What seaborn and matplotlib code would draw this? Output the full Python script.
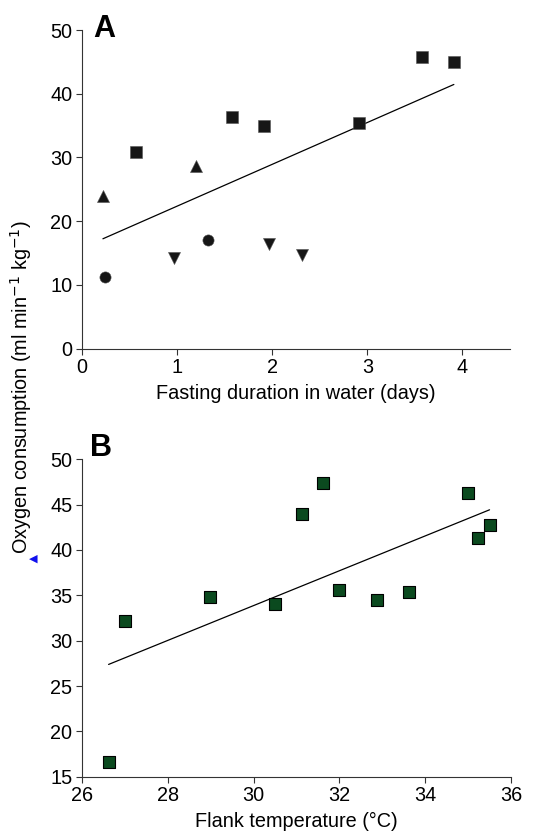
import numpy as np
import pandas as pd
import matplotlib
matplotlib.use('Agg')
import matplotlib.pyplot as plt
import seaborn as sns

# Panel A: fasting duration (days) vs oxygen consumption, four groups
sq_days = [0.57, 1.58, 1.91, 2.91, 3.58, 3.91]
sq_vo2 = [30.8, 36.3, 34.9, 35.4, 45.7, 45.0]
up_days = [0.22, 1.20]
up_vo2 = [23.9, 28.6]
circ_days = [0.24, 1.32]
circ_vo2 = [11.2, 17.0]
down_days = [0.97, 1.97, 2.31]
down_vo2 = [14.3, 16.5, 14.7]

# Panel B: flank temperature vs oxygen consumption
flank_temp = [26.62, 27.0, 28.99, 30.5, 31.13, 31.62, 32.0, 32.87, 33.63, 35.0, 35.24, 35.5]
flank_vo2 = [16.65, 32.2, 34.8, 34.1, 44.0, 47.4, 35.6, 34.5, 35.4, 46.3, 41.3, 42.8]

FONT = 'Liberation Sans'
FS = 14.3

sns.set_style('ticks')
plt.rcParams['font.family'] = [FONT, 'DejaVu Sans']
plt.rcParams['text.color'] = 'black'
plt.rcParams['axes.labelcolor'] = 'black'
plt.rcParams['xtick.labelcolor'] = 'black'
plt.rcParams['ytick.labelcolor'] = 'black'

dfa = pd.DataFrame({
    'days': sq_days + up_days + circ_days + down_days,
    'vo2': sq_vo2 + up_vo2 + circ_vo2 + down_vo2,
    'group': ['s'] * len(sq_days) + ['u'] * len(up_days)
             + ['c'] * len(circ_days) + ['d'] * len(down_days),
})
dfb = pd.DataFrame({'temp': flank_temp, 'vo2': flank_vo2})

fig = plt.figure(figsize=(5.38, 8.36), dpi=100)
ax_a = fig.add_axes([0.1524, 0.5829, 0.7955, 0.3812])
ax_b = fig.add_axes([0.1524, 0.0709, 0.7974, 0.3797])

# ---- panel A
sizes = {'s': 70, 'u': 75, 'c': 65, 'd': 75}
marks = {'s': 's', 'u': '^', 'c': 'o', 'd': 'v'}
for g, sub in dfa.groupby('group'):
    sns.scatterplot(data=sub, x='days', y='vo2', marker=marks[g], s=sizes[g],
                    color='#161616', edgecolor='#555555', linewidth=0.4,
                    ax=ax_a, legend=False, zorder=3)
sns.regplot(data=dfa, x='days', y='vo2', scatter=False, ci=None, ax=ax_a,
            line_kws=dict(color='black', lw=0.9))
ax_a.set_xlim(0, 4.5)
ax_a.set_ylim(0, 50)
ax_a.set_xticks([0, 1, 2, 3, 4])
ax_a.set_yticks([0, 10, 20, 30, 40, 50])
ax_a.set_xlabel('Fasting duration in water (days)', fontsize=FS, labelpad=5)
ax_a.set_ylabel('')

# ---- panel B
sns.scatterplot(data=dfb, x='temp', y='vo2', marker='s', s=65,
                color='#0b4a1f', edgecolor='black', linewidth=0.8,
                ax=ax_b, legend=False, zorder=3)
sns.regplot(data=dfb, x='temp', y='vo2', scatter=False, ci=None, ax=ax_b,
            line_kws=dict(color='black', lw=0.9))
ax_b.set_xlim(26, 36)
ax_b.set_ylim(15, 50)
ax_b.set_xticks([26, 28, 30, 32, 34, 36])
ax_b.set_yticks([15, 20, 25, 30, 35, 40, 45, 50])
ax_b.set_xlabel('Flank temperature (\u00b0C)', fontsize=FS, labelpad=5)
ax_b.set_ylabel('')

for ax in (ax_a, ax_b):
    sns.despine(ax=ax)
    ax.tick_params(labelsize=FS, length=4, width=0.8, color='#333333', pad=3)
    for sp in ('left', 'bottom'):
        ax.spines[sp].set_linewidth(0.8)
        ax.spines[sp].set_color('#333333')

fig.text(0.173, 0.956, 'A', fontsize=22, fontweight='bold', ha='left', va='baseline')
fig.text(0.168, 0.454, 'B', fontsize=22, fontweight='bold', ha='left', va='baseline')

fig.text(0.039, 0.537, 'Oxygen consumption (ml min$^{-1}$ kg$^{-1}$)',
         rotation=90, fontsize=FS, ha='center', va='center')
# small blue caret left of the y label
fig.text(0.062, 0.332, '\u25c0', color='#1010ee', fontsize=8, ha='center', va='center',
         family=['DejaVu Sans'])

fig.savefig('out.png', dpi=100)
